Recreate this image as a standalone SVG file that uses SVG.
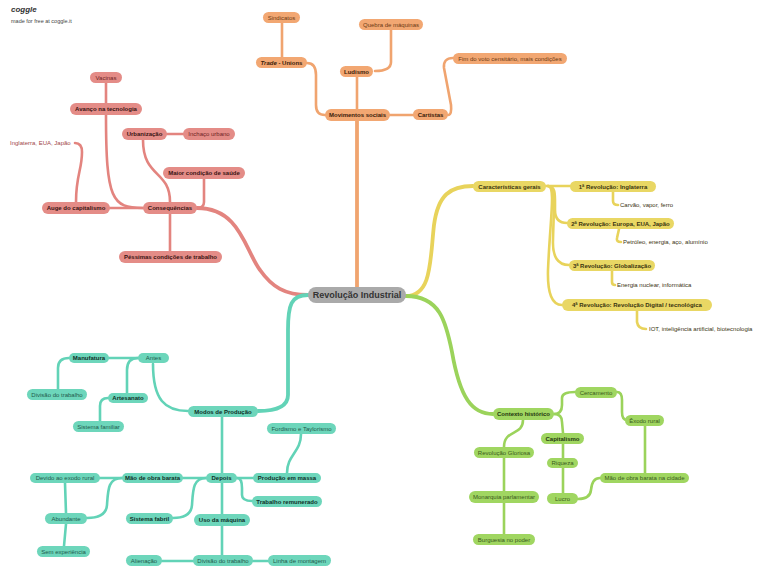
<svg xmlns="http://www.w3.org/2000/svg" width="768" height="582" viewBox="0 0 768 582">
<style>
text{font-family:"Liberation Sans",Arial,sans-serif;font-size:6px;text-anchor:middle}
.b{font-weight:bold}
.l{text-anchor:start}
path{fill:none;stroke-linecap:round;stroke-linejoin:round;stroke-width:2.6}
.main{stroke-width:3.8}
.cr path{stroke:#e3847f}.cr .x{}
.co path{stroke:#f0a46f}
.cy path{stroke:#e8d35b}
.ct path{stroke:#62d3b7}
.cg path{stroke:#9bd35b}
.r rect{fill:#e48c87}.r text{fill:#6e2424}.r .b{fill:#3a1414}
.o rect{fill:#f2a772}.o text{fill:#6b3a14}.o .b{fill:#3a200a}
.y rect{fill:#e9d764}.y text{fill:#3a3410}
.yt{fill:#8a7a2a}
.t rect{fill:#6dd6bb}.t text{fill:#1f5a4c}.t .b{fill:#0f3028}
.g rect{fill:#a0d661}.g text{fill:#3a5a1c}.g .b{fill:#1f3510}
</style>
<rect width="768" height="582" fill="#ffffff"/>
<text x="11" y="12" class="l b" style="font-size:8px;font-style:italic;fill:#333">coggle</text>
<text x="11" y="23" class="l" style="font-size:5.5px;fill:#444">made for free at coggle.it</text>

<g id="connectors">
<g class="cr">
<path class="main" d="M197,208 C240,208 245,250 260,270 C272,287 285,295 308,295"/>
<path d="M106,83 L106,103"/>
<path d="M106,115 C106,200 112,208 143,208"/>
<path d="M143,140 C143,178 170,170 170,202"/>
<path d="M167,134 L183,134"/>
<path d="M204,179 L204,202 Q204,208 197,208"/>
<path d="M143,208 L110,208"/>
<path d="M76,202 C76,175 82,170 82,152 Q82,143 75,143"/>
<path d="M170,214 L170,251"/>
</g>
<g class="co">
<path class="main" d="M357,121 L357,287"/>
<path d="M282,23 L282,57"/>
<path d="M307,63 Q316,63 316,75 L316,105 Q316,115 325,115"/>
<path d="M391,30 L391,62 Q391,71 375,71"/>
<path d="M357,77 L357,109"/>
<path d="M390,115 L413,115"/>
<path d="M448,115 Q452,115 451,105 L444,68 Q443,58 453,58"/>
</g>
<g class="cy">
<path class="main" d="M406,296 C432,296 430,260 434,225 C438,195 450,186 473,186"/>
<path d="M546,186 L570,186"/>
<path d="M548,186 C556,186 555,195 555,210 Q555,223 567,223"/>
<path d="M548,186 C556,186 554,200 553,240 Q552,265 569,265"/>
<path d="M548,186 C556,186 550,220 548,270 Q547,305 562,305"/>
<path d="M613,192 L613,201 Q613,205 618,205"/>
<path d="M619,229 L617,238 Q616,242 621,242"/>
<path d="M612,271 L612,282 Q612,285 615,285"/>
<path d="M637,311 L637,322 Q638,329 646,329"/>
</g>
<g class="ct">
<path class="main" d="M308,295 C291,295 288,305 288,330 L288,395 Q288,411 258,411"/>
<path d="M153,364 C153,400 165,411 188,411"/>
<path d="M138,358 L109,358"/>
<path d="M138,358 Q127,358 127,370 L127,393"/>
<path d="M69,358 Q58,358 58,368 L58,389"/>
<path d="M108,398 Q100,398 100,406 L100,421"/>
<path d="M222,417 L222,473"/>
<path d="M237,478 L253,478"/>
<path d="M237,478 Q242,478 242,488 L242,495 Q242,501 252,501"/>
<path d="M287,473 C287,455 301,452 301,434"/>
<path d="M206,478 L183,478"/>
<path d="M206,478 C193,478 193,490 192,505 Q191,518 173,518"/>
<path d="M222,483 L222,514"/>
<path d="M222,526 L222,555"/>
<path d="M193,561 L162,561"/>
<path d="M253,561 L268,561"/>
<path d="M122,478 L100,478"/>
<path d="M122,478 C108,478 108,490 107,505 Q106,518 87,518"/>
<path d="M65,483 L66,513"/>
<path d="M66,524 L64,546"/>
</g>
<g class="cg">
<path class="main" d="M406,296 C440,296 446,322 452,352 C460,398 472,414 493,414"/>
<path d="M554,414 Q562,414 562,405 L562,398 Q562,392 575,392"/>
<path d="M554,414 Q562,414 562,422 L563,433"/>
<path d="M617,392 Q622,392 622,400 L622,412 Q622,420 627,420"/>
<path d="M645,426 L645,473"/>
<path d="M563,444 L563,458"/>
<path d="M563,468 L563,493"/>
<path d="M578,499 Q590,499 591,490 Q592,478 600,478"/>
<path d="M523,420 C523,436 504,429 504,447"/>
<path d="M504,458 L504,491"/>
<path d="M504,503 L504,534"/>
</g>
</g>

<g id="root"><rect x="308" y="287" width="98" height="16" rx="8" fill="#aaaaaa"/><text x="357" y="298.2" class="b" style="font-size:9px;fill:#333">Revolução Industrial</text></g>

<g class="r">
<g id="vacinas"><rect x="90" y="72" width="32" height="11" rx="5.5"/><text x="106" y="79.6">Vacinas</text></g>
<g id="avanco"><rect x="70" y="103" width="72" height="12" rx="6"/><text x="106" y="111.1" class="b">Avanço na tecnologia</text></g>
<g id="urbanizacao"><rect x="122" y="128" width="45" height="12" rx="6"/><text x="144.5" y="136.1" class="b">Urbanização</text></g>
<g id="inchaco"><rect x="183" y="128" width="52" height="12" rx="6"/><text x="209" y="136.1">Inchaço urbano</text></g>
<g id="maior"><rect x="163" y="167" width="82" height="12" rx="6"/><text x="204" y="175.1" class="b">Maior condição de saúde</text></g>
<g id="auge"><rect x="42" y="202" width="68" height="12" rx="6"/><text x="76" y="210.1" class="b">Auge do capitalismo</text></g>
<g id="consequencias"><rect x="143" y="202" width="54" height="12" rx="6"/><text x="170" y="210.1" class="b">Consequências</text></g>
<g id="pessimas"><rect x="119" y="251" width="103" height="12" rx="6"/><text x="170.5" y="259.1" class="b">Péssimas condições de trabalho</text></g>
<g id="inglaterra"><text x="10" y="145" class="l" style="fill:#a04848">Inglaterra, EUA, Japão</text></g>
</g>

<g class="o">
<g id="sindicatos"><rect x="263" y="12" width="37" height="11" rx="5.5"/><text x="281.5" y="19.6">Sindicatos</text></g>
<g id="quebra"><rect x="359" y="19" width="64" height="11" rx="5.5"/><text x="391" y="26.6">Quebra de máquinas</text></g>
<g id="trade"><rect x="256" y="57" width="51" height="11" rx="5.5"/><text x="281.5" y="64.6" class="b"><tspan font-style="italic">Trade</tspan> - Unions</text></g>
<g id="ludismo"><rect x="340" y="66" width="33" height="11" rx="5.5"/><text x="356.5" y="73.6" class="b">Ludismo</text></g>
<g id="movimentos"><rect x="325" y="109" width="65" height="12" rx="6"/><text x="357.5" y="117.1" class="b">Movimentos sociais</text></g>
<g id="cartistas"><rect x="413" y="109" width="35" height="11" rx="5.5"/><text x="430.5" y="116.6" class="b">Cartistas</text></g>
<g id="fim"><rect x="453" y="53" width="114" height="11" rx="5.5"/><text x="510" y="60.6">Fim do voto censitário, mais condições</text></g>
</g>

<g class="y">
<g id="caracteristicas"><rect x="473" y="181" width="73" height="11" rx="5.5"/><text x="509.5" y="188.6" class="b">Características gerais</text></g>
<g id="rev1"><rect x="570" y="181" width="86" height="11" rx="5.5"/><text x="613" y="188.6" class="b">1ª Revolução: Inglaterra</text></g>
<g id="rev2"><rect x="567" y="218" width="107" height="11" rx="5.5"/><text x="620.5" y="225.6" class="b">2ª Revolução: Europa, EUA, Japão</text></g>
<g id="rev3"><rect x="569" y="260" width="86" height="11" rx="5.5"/><text x="612" y="267.6" class="b">3ª Revolução: Globalização</text></g>
<g id="rev4"><rect x="562" y="299" width="150" height="12" rx="6"/><text x="637" y="307.1" class="b">4ª Revolução: Revolução Digital / tecnológica</text></g>
<g id="carvao"><text x="620" y="207" class="l yt">Carvão, vapor, ferro</text></g>
<g id="petroleo"><text x="623" y="244" class="l yt">Petróleo, energia, aço, alumínio</text></g>
<g id="energia"><text x="617" y="287" class="l yt">Energia nuclear, informática</text></g>
<g id="iot"><text x="649" y="331" class="l yt">IOT, inteligência artificial, biotecnologia</text></g>
</g>

<g class="t">
<g id="manufatura"><rect x="69" y="353" width="40" height="10" rx="5"/><text x="89" y="360.1" class="b">Manufatura</text></g>
<g id="antes"><rect x="138" y="353" width="31" height="10" rx="5"/><text x="153.5" y="360.1">Antes</text></g>
<g id="divisao1"><rect x="27" y="389" width="60" height="11" rx="5.5"/><text x="57" y="396.6">Divisão do trabalho</text></g>
<g id="artesanato"><rect x="108" y="393" width="40" height="10" rx="5"/><text x="128" y="400.1" class="b">Artesanato</text></g>
<g id="modos"><rect x="188" y="406" width="70" height="11" rx="5.5"/><text x="223" y="413.6" class="b">Modos de Produção</text></g>
<g id="familiar"><rect x="73" y="421" width="51" height="11" rx="5.5"/><text x="98.5" y="428.6">Sistema familiar</text></g>
<g id="fordismo"><rect x="267" y="423" width="69" height="11" rx="5.5"/><text x="301.5" y="430.6">Fordismo e Taylorismo</text></g>
<g id="devido"><rect x="30" y="473" width="70" height="10" rx="5"/><text x="65" y="480.1">Devido ao exodo rural</text></g>
<g id="mao"><rect x="122" y="473" width="61" height="10" rx="5"/><text x="152.5" y="480.1" class="b">Mão de obra barata</text></g>
<g id="depois"><rect x="206" y="473" width="31" height="10" rx="5"/><text x="221.5" y="480.1" class="b">Depois</text></g>
<g id="producao"><rect x="253" y="473" width="68" height="10" rx="5"/><text x="287" y="480.1" class="b">Produção em massa</text></g>
<g id="remunerado"><rect x="252" y="496" width="70" height="11" rx="5.5"/><text x="287" y="503.6" class="b">Trabalho remunerado</text></g>
<g id="abundante"><rect x="45" y="513" width="42" height="11" rx="5.5"/><text x="66" y="520.6">Abundante</text></g>
<g id="fabril"><rect x="126" y="513" width="47" height="11" rx="5.5"/><text x="149.5" y="520.6" class="b">Sistema fabril</text></g>
<g id="uso"><rect x="194" y="514" width="56" height="12" rx="6"/><text x="222" y="522.1" class="b">Uso da máquina</text></g>
<g id="sem"><rect x="37" y="546" width="53" height="11" rx="5.5"/><text x="63.5" y="553.6">Sem experiência</text></g>
<g id="alienacao"><rect x="126" y="555" width="36" height="11" rx="5.5"/><text x="144" y="562.6">Alienação</text></g>
<g id="divisao2"><rect x="193" y="555" width="60" height="11" rx="5.5"/><text x="223" y="562.6">Divisão do trabalho</text></g>
<g id="linha"><rect x="268" y="555" width="63" height="11" rx="5.5"/><text x="299.5" y="562.6">Linha de montagem</text></g>
</g>

<g class="g">
<g id="cercamento"><rect x="575" y="387" width="42" height="11" rx="5.5"/><text x="596" y="394.6">Cercamento</text></g>
<g id="contexto"><rect x="493" y="408" width="61" height="12" rx="6"/><text x="523.5" y="416.1" class="b">Contexto histórico</text></g>
<g id="exodo"><rect x="625" y="415" width="39" height="11" rx="5.5"/><text x="644.5" y="422.6">Êxodo rural</text></g>
<g id="capitalismo"><rect x="541" y="433" width="43" height="11" rx="5.5"/><text x="562.5" y="440.6" class="b">Capitalismo</text></g>
<g id="gloriosa"><rect x="474" y="447" width="60" height="11" rx="5.5"/><text x="504" y="454.6">Revolução Gloriosa</text></g>
<g id="riqueza"><rect x="547" y="458" width="31" height="10" rx="5"/><text x="562.5" y="465.1">Riqueza</text></g>
<g id="maocidade"><rect x="600" y="473" width="89" height="10" rx="5"/><text x="644.5" y="480.1">Mão de obra barata na cidade</text></g>
<g id="monarquia"><rect x="469" y="491" width="70" height="12" rx="6"/><text x="504" y="499.1">Monarquia parlamentar</text></g>
<g id="lucro"><rect x="547" y="493" width="31" height="11" rx="5.5"/><text x="562.5" y="500.6">Lucro</text></g>
<g id="burguesia"><rect x="473" y="534" width="62" height="11" rx="5.5"/><text x="504" y="541.6">Burguesia no poder</text></g>
</g>
</svg>
